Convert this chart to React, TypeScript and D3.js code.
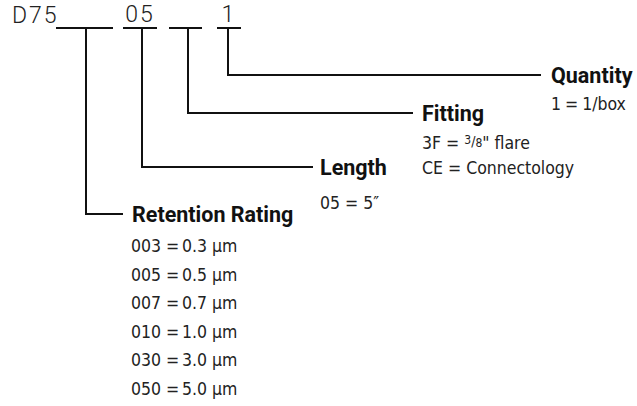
import React from "react";
import * as d3 from "d3";

// part number breakdown
const prefix = "D75";
const slotCodes = ["", "05", "", "1"];
const fieldNames = ["Retention Rating", "Length", "Fitting", "Quantity"];

const retentionCodes = ["003", "005", "007", "010", "030", "050"];
const retentionValues = ["0.3 µm", "0.5 µm", "0.7 µm", "1.0 µm", "3.0 µm", "5.0 µm"];
const lengthOptions = ["05 = 5″"];
const quantityOptions = ["1 = 1/box"];

const W = 637;
const H = 406;
const lineY = 28;
// slot underline extents and the drop x for each field
const slots = [
  { x0: 56, x1: 113, drop: 86, elbowY: 214, end: 123, labelX: 132 },
  { x0: 123, x1: 157, drop: 142, elbowY: 167, end: 313, labelX: 320 },
  { x0: 169, x1: 202, drop: 188, elbowY: 113, end: 413, labelX: 422 },
  { x0: 217, x1: 241, drop: 228, elbowY: 75, end: 541, labelX: 551 },
];

const valueFont = "'DejaVu Sans Condensed', Roboto, sans-serif";
const labelFont = "Roboto, 'Liberation Sans', sans-serif";

function App() {
  const line = d3.line<[number, number]>();
  const retY = d3.scaleLinear().domain([0, retentionCodes.length - 1]).range([252, 394.5]);

  const valueStyle = { fontFamily: valueFont, fontSize: 17.5, fill: "#222" };
  const labelStyle = { fontFamily: labelFont, fontSize: 21.5, fontWeight: 700, fill: "#111" };
  const codeStyle = { fontFamily: "Roboto, sans-serif", fontSize: 23, fontWeight: 300, fill: "#222", letterSpacing: 2 };

  return (
    <svg width={W} height={H} style={{ position: "absolute", left: 0, top: 0 }}>
      <text x={12} y={23} style={codeStyle}>
        {prefix}
      </text>
      {slots.map((s, i) => (
        <g key={i}>
          <path d={line([[s.x0, lineY], [s.x1, lineY]]) ?? ""} stroke="#111" strokeWidth={2} fill="none" />
          <path
            d={line([[s.drop, lineY], [s.drop, s.elbowY], [s.end, s.elbowY]]) ?? ""}
            stroke="#111"
            strokeWidth={2}
            fill="none"
          />
          {slotCodes[i] && (
            <text x={(s.x0 + s.x1) / 2} y={22} textAnchor="middle" style={codeStyle}>
              {slotCodes[i]}
            </text>
          )}
          <text x={s.labelX} y={s.elbowY + 8} style={labelStyle}>
            {fieldNames[i]}
          </text>
        </g>
      ))}

      {/* retention rating table */}
      {retentionCodes.map((c, i) => (
        <g key={c} style={valueStyle}>
          <text x={131} y={retY(i)}>{c}</text>
          <text x={166} y={retY(i)}>=</text>
          <text x={182} y={retY(i)}>{retentionValues[i]}</text>
        </g>
      ))}

      {lengthOptions.map((t, i) => (
        <text key={t} x={320} y={209 + i * 25} style={valueStyle}>{t}</text>
      ))}

      {/* fitting */}
      <text x={422} y={149} style={valueStyle}>
        3F = <tspan fontSize={12} dy={-5}>3</tspan>
        <tspan fontSize={14} dy={2}>/</tspan>
        <tspan fontSize={12} dy={1}>8</tspan>
        <tspan dy={2}>" flare</tspan>
      </text>
      <text x={422} y={174} style={valueStyle}>CE = Connectology</text>

      {quantityOptions.map((t, i) => (
        <text key={t} x={551} y={110 + i * 25} style={{ ...valueStyle, wordSpacing: -1 }}>{t}</text>
      ))}
    </svg>
  );
}

export default App;
